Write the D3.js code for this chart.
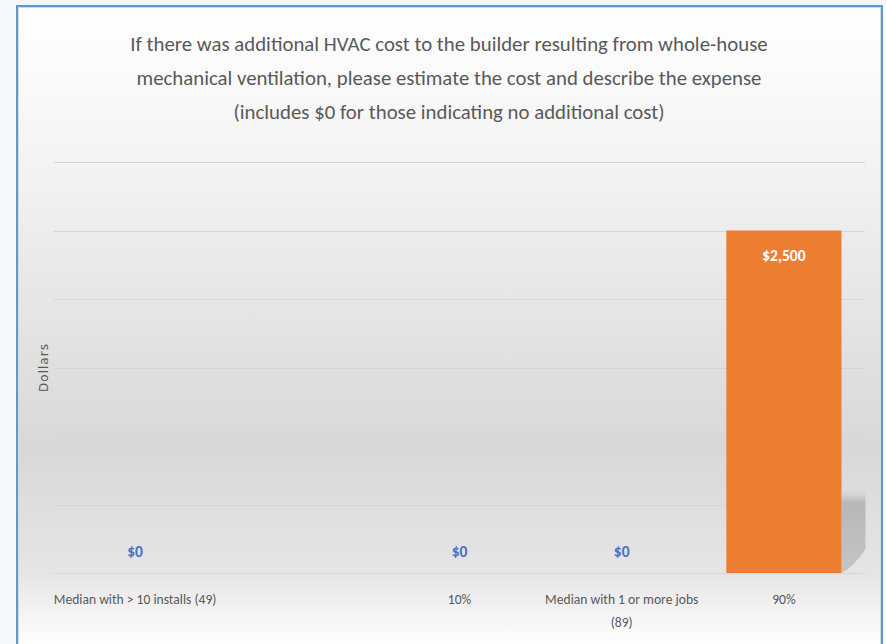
<!DOCTYPE html>
<html>
<head>
<meta charset="utf-8">
<script src="https://cdn.jsdelivr.net/npm/d3@7"></script>
<style>
  html, body { margin: 0; padding: 0; background: #f4f8fc; }
  svg { display: block; }
</style>
</head>
<body>
<svg id="chart" width="886" height="644"></svg>
<script>
// Chart content
const titleLines = [
  "If there was additional HVAC cost to the builder resulting from whole-house",
  "mechanical ventilation, please estimate the cost and describe the expense",
  "(includes $0 for those indicating no additional cost)"
];
const categories = ["Median with > 10 installs (49)", "", "10%", "Median with 1 or more jobs (89)", "90%"];
const values = [0, null, 0, 0, 2500];
const yTicks = [0, 500, 1000, 1500, 2000, 2500, 3000];
const yAxisTitle = "Dollars";

const frame = { x: 17, y: 6, w: 865, h: 660 };
const plot = { left: 54, right: 865, top: 162, bottom: 573 };

const calibri = "Carlito, Lato, 'Open Sans', sans-serif";
const textGray = "#595959";

const svg = d3.select("#chart");
const defs = svg.append("defs");

// Frame background: white at top, grey through the plot, back to white at the bottom
const bg = defs.append("linearGradient").attr("id", "bgGrad")
  .attr("x1", 0).attr("y1", 0).attr("x2", 0).attr("y2", 1);
[["0%", "#ffffff"], ["22%", "#f4f4f4"], ["67%", "#d8d8d8"], ["86%", "#e5e5e5"], ["96%", "#fdfdfd"], ["100%", "#ffffff"]]
  .forEach(([o, c]) => bg.append("stop").attr("offset", o).attr("stop-color", c));

// Soft shadow behind the tall bar
const sh = defs.append("linearGradient").attr("id", "shadowGrad")
  .attr("x1", 0).attr("y1", 0).attr("x2", 0).attr("y2", 1);
sh.append("stop").attr("offset", "0%").attr("stop-color", "#d8d8d8").attr("stop-opacity", 0);
sh.append("stop").attr("offset", "18%").attr("stop-color", "#b8b8b8").attr("stop-opacity", 1);
sh.append("stop").attr("offset", "100%").attr("stop-color", "#c4c4c4").attr("stop-opacity", 1);

svg.append("rect")
  .attr("x", frame.x).attr("y", frame.y)
  .attr("width", frame.w).attr("height", frame.h)
  .attr("fill", "url(#bgGrad)");

// Title
const title = svg.append("text")
  .attr("text-anchor", "middle")
  .attr("font-family", calibri)
  .attr("font-size", 20.8)
  .attr("fill", textGray);
titleLines.forEach((line, i) => {
  title.append("tspan").attr("x", 449).attr("y", 51 + i * 34).text(line);
});

// Scales
const x = d3.scaleBand()
  .domain(d3.range(categories.length))
  .range([plot.left, plot.right])
  .paddingInner(0.29)
  .paddingOuter(0.145);

const y = d3.scaleLinear()
  .domain([0, 3000])
  .range([plot.bottom, plot.top]);

// Gridlines
svg.append("g")
  .selectAll("line")
  .data(yTicks.filter(t => t > 0))
  .join("line")
  .attr("x1", plot.left).attr("x2", plot.right)
  .attr("y1", d => Math.round(y(d)) + 0.5).attr("y2", d => Math.round(y(d)) + 0.5)
  .attr("stroke", "#d6d6d6")
  .attr("stroke-width", 1);

// Shadow for bars with height
svg.append("g")
  .selectAll("path")
  .data(values.map((v, i) => ({ v, i })).filter(d => d.v > 0))
  .join("path")
  .attr("d", d => {
    const x0 = x(d.i) + x.bandwidth();
    const xr = Math.min(x0 + 24, plot.right + 1);
    const yb = y(0), yt = y(0) - 86;
    return `M${x0},${yt} L${xr},${yt} L${xr},${yb - 24} Q${x0 + 12},${yb - 6} ${x0},${yb} Z`;
  })
  .attr("fill", "url(#shadowGrad)");

// Bars
svg.append("g")
  .selectAll("rect")
  .data(values.map((v, i) => ({ v, i })).filter(d => d.v != null))
  .join("rect")
  .attr("x", d => x(d.i))
  .attr("width", x.bandwidth())
  .attr("y", d => y(d.v))
  .attr("height", d => y(0) - y(d.v))
  .attr("fill", "#ed7d31");

// Category axis
const xAxis = svg.append("g")
  .attr("transform", `translate(0,${plot.bottom})`)
  .call(d3.axisBottom(x).tickSize(0).tickFormat(i => categories[i]));
xAxis.select(".domain")
  .attr("d", `M${plot.left},0.5H${plot.right}`)
  .attr("stroke", "#d6d6d6");
xAxis.selectAll("text")
  .attr("font-family", calibri)
  .attr("font-size", 13.6)
  .attr("fill", textGray)
  .attr("dy", 0)
  .attr("y", 31)
  .each(function () {
    // wrap labels wider than one category step
    const t = d3.select(this);
    const words = t.text().split(" ");
    const maxW = x.step() * 1.06;
    t.text(null);
    let line = [];
    let lineNo = 0;
    let ts = t.append("tspan").attr("x", 0).attr("y", 31);
    words.forEach(w => {
      line.push(w);
      ts.text(line.join(" "));
      if (ts.node().getComputedTextLength() > maxW && line.length > 1) {
        line.pop();
        ts.text(line.join(" "));
        line = [w];
        lineNo++;
        ts = t.append("tspan").attr("x", 0).attr("y", 31 + lineNo * 23).text(w);
      }
    });
  });

// Value labels
svg.append("g")
  .selectAll("text")
  .data(values.map((v, i) => ({ v, i })).filter(d => d.v != null))
  .join("text")
  .attr("x", d => x(d.i) + x.bandwidth() / 2)
  .attr("y", d => d.v > 0 ? y(d.v) + 30 : y(0) - 16)
  .attr("text-anchor", "middle")
  .attr("font-family", calibri)
  .attr("font-weight", "bold")
  .attr("font-size", 15.5)
  .attr("fill", d => d.v > 0 ? "#ffffff" : "#4472c4")
  .text(d => d3.format("$,")(d.v));

// Vertical axis title
svg.append("text")
  .attr("transform", `translate(48,${(plot.top + plot.bottom) / 2}) rotate(-90)`)
  .attr("text-anchor", "middle")
  .attr("font-family", "'DejaVu Sans', Verdana, sans-serif")
  .attr("font-size", 12)
  .attr("letter-spacing", 1)
  .attr("fill", textGray)
  .text(yAxisTitle);

// Frame border
svg.append("rect")
  .attr("x", frame.x + 1.5).attr("y", frame.y + 1.5)
  .attr("width", frame.w - 3).attr("height", frame.h)
  .attr("fill", "none")
  .attr("stroke", "#d9d9d9")
  .attr("stroke-width", 1);
svg.append("rect")
  .attr("x", frame.x).attr("y", frame.y)
  .attr("width", frame.w).attr("height", frame.h)
  .attr("fill", "none")
  .attr("stroke", "#5b9bd5")
  .attr("stroke-width", 2);
</script>
</body>
</html>
